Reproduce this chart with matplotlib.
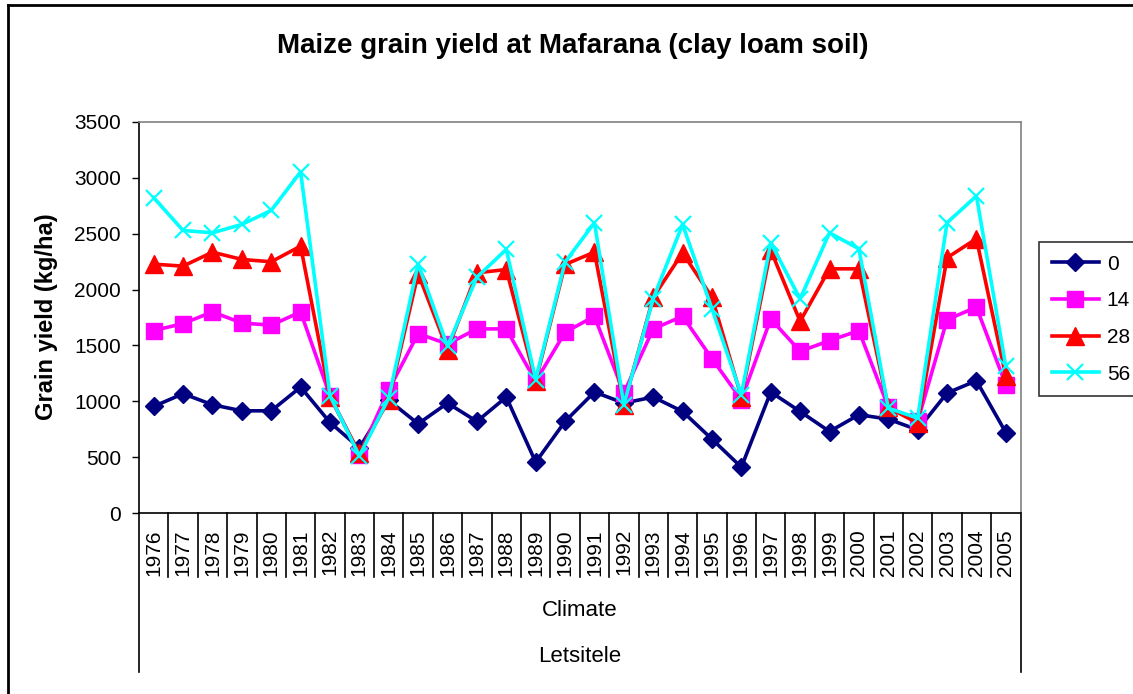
import numpy as np
import matplotlib.pyplot as plt
import matplotlib.transforms as mtransforms
from matplotlib.lines import Line2D

plt.rcParams["font.family"] = ["Liberation Sans", "DejaVu Sans"]

years = list(range(1976, 2006))
y_0 = [955, 1069, 970, 916, 916, 1128, 812, 585, 1010, 800,
       985, 821, 1039, 457, 821, 1084, 985, 1039, 910, 663,
       412, 1084, 910, 731, 881, 842, 746, 1075, 1185, 722]
y_14 = [1633, 1696, 1800, 1701, 1681, 1800, 1051, 522, 1104, 1606,
        1513, 1648, 1648, 1179, 1618, 1761, 1075, 1648, 1761, 1382,
        1015, 1737, 1448, 1543, 1633, 949, 821, 1731, 1842, 1149]
y_28 = [2227, 2209, 2334, 2269, 2248, 2388, 1039, 537, 1015, 2143,
        1463, 2149, 2179, 1179, 2224, 2334, 970, 1931, 2328, 1931,
        1039, 2352, 1716, 2185, 2185, 946, 806, 2284, 2454, 1224]
y_56 = [2821, 2528, 2507, 2582, 2707, 3051, 1051, 513, 1030, 2230,
        1493, 2110, 2358, 1194, 2245, 2597, 970, 1919, 2582, 1827,
        1060, 2418, 1916, 2507, 2364, 940, 851, 2597, 2836, 1313]
series_names = ["0", "14", "28", "56"]

W, H = 1133, 694
fig = plt.figure(figsize=(W / 100, H / 100), dpi=100)

# plot area in pixels
x0, x1, ytop, ybot = 139, 1020.5, 121.7, 513.3
ax = fig.add_axes([x0 / W, (H - ybot) / H, (x1 - x0) / W, (ybot - ytop) / H])

x = np.arange(len(years))
lw = 2.6
ax.plot(x, y_0, color="#000080", marker="D", markersize=9.5, lw=lw, label=series_names[0], clip_on=False, zorder=3)
ax.plot(x, y_14, color="#ff00ff", marker="s", markersize=12, lw=lw, label=series_names[1], clip_on=False, zorder=4)
ax.plot(x, y_28, color="#ff0000", marker="^", markersize=13, lw=lw, label=series_names[2], clip_on=False, zorder=5)
ax.plot(x, y_56, color="#00ffff", marker="x", markersize=12, mew=1.6, lw=lw, label=series_names[3], clip_on=False, zorder=6)

ax.set_xlim(-0.5, len(years) - 0.5)
ax.set_ylim(0, 3500)
ax.set_yticks(np.arange(0, 3501, 500))
ax.tick_params(axis="y", direction="out", length=5, width=1, labelsize=15, pad=8, colors="black")
ax.set_xticks([])

for s in ["top", "right"]:
    ax.spines[s].set_color("#808080")
    ax.spines[s].set_linewidth(1.2)
for s in ["left", "bottom"]:
    ax.spines[s].set_color("black")
    ax.spines[s].set_linewidth(1.2)

# category axis with nested labels
trans = mtransforms.blended_transform_factory(ax.transData, ax.transAxes)
ph = ybot - ytop
short_y = -(577 - ybot) / ph
long_y = -(672 - ybot) / ph
for i in range(len(years) + 1):
    xb = i - 0.5
    yend = long_y if i in (0, len(years)) else short_y
    ax.plot([xb, xb], [0, yend], color="black", lw=1.2, transform=trans, clip_on=False)
for i, yr in enumerate(years):
    ax.text(i, -(529 - ybot) / ph, str(yr), rotation=90, ha="center", va="top",
            fontsize=15, transform=trans)

ax.text(0.5, -(610 - ybot) / ph, "Climate", ha="center", va="center", fontsize=16, transform=ax.transAxes)
ax.text(0.5, -(657 - ybot) / ph, "Letsitele", ha="center", va="center", fontsize=16, transform=ax.transAxes)

fig.text(46 / W, 1 - 317 / H, "Grain yield (kg/ha)", rotation=90, ha="center", va="center",
         fontsize=17, fontweight="bold")

fig.text(573 / W, 1 - 46 / H, "Maize grain yield at Mafarana (clay loam soil)",
         ha="center", va="center", fontsize=20, fontweight="bold")

leg = ax.legend(loc="upper left", bbox_to_anchor=(1039 / W, 1 - 242 / H), bbox_transform=fig.transFigure,
                frameon=True, fancybox=False, fontsize=15, handlelength=2.3, labelspacing=0.85,
                borderpad=0.6, handletextpad=0.35, borderaxespad=0)
leg.get_frame().set_edgecolor("black")
leg.get_frame().set_linewidth(1.2)

# outer chart border (cropped at right and bottom)
fig.add_artist(Line2D([8 / W, 8 / W], [0, 1 - 5 / H], color="black", lw=2, transform=fig.transFigure))
fig.add_artist(Line2D([8 / W, 1], [1 - 5 / H, 1 - 5 / H], color="black", lw=2, transform=fig.transFigure))

fig.savefig("out.png", dpi=100)
